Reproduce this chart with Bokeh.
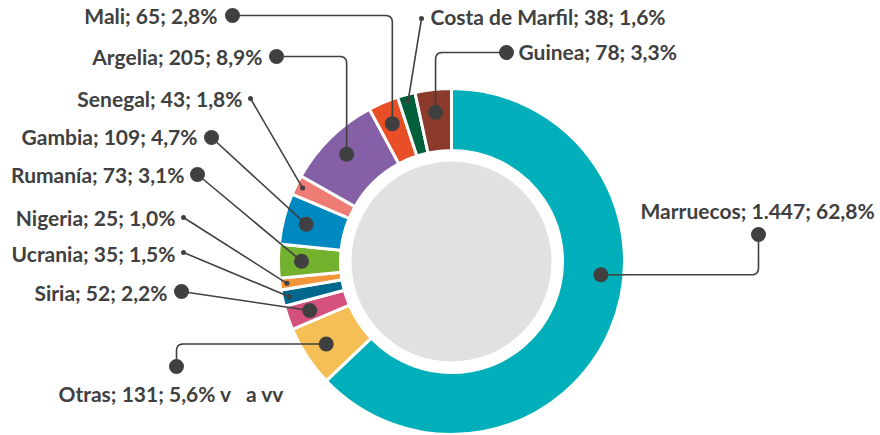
import math
from bokeh.plotting import figure
from bokeh.models import Range1d
from bokeh.embed import file_html
from bokeh.resources import INLINE
from bokeh.core.properties import value

# ---------------- data ----------------
countries = ["Marruecos", "Otras", "Siria", "Ucrania", "Nigeria", "Rumanía",
             "Gambia", "Senegal", "Argelia", "Mali", "Costa de Marfil", "Guinea"]
counts = [1447, 131, 52, 35, 25, 73, 109, 43, 205, 65, 38, 78]
percents = ["62,8%", "5,6%", "2,2%", "1,5%", "1,0%", "3,1%",
            "4,7%", "1,8%", "8,9%", "2,8%", "1,6%", "3,3%"]
label_suffix = ["", " v\u00a0\u00a0\u00a0a vv", "", "", "", "", "", "", "", "", "", ""]
colors = ["#00AFBA", "#F5BF55", "#D4507D", "#00688C", "#F3963B", "#73B22F",
          "#0088C1", "#EE7B74", "#8660A6", "#E84F26", "#00603A", "#8C3A2B"]

# ---------------- layout (screen px of the 880x435 picture) ----------------
W, H = 880, 435
CX, CY = 451, 261
R_OUT, R_IN, R_HOLE = 173, 111, 100
TXT = "#404040"

# label text anchor (x, y, align), label-side dot (x, y), dot kind, leader style
label_layout = {
    "Marruecos":       ((640, 210, "left"),  (758, 234), "big",   "v"),
    "Otras":           ((58, 393, "left"),   (176, 366), "big",   "v"),
    "Siria":           ((167, 292, "right"), (181, 291), "big",   "s"),
    "Ucrania":         ((175, 253, "right"), (183, 252), "small", "s"),
    "Nigeria":         ((175, 217, "right"), (183, 217), "small", "s"),
    "Rumanía":         ((184, 174, "right"), (197, 174), "big",   "s"),
    "Gambia":          ((197, 136, "right"), (211, 137), "big",   "s"),
    "Senegal":         ((242, 98, "right"),  (250, 98),  "small", "s"),
    "Argelia":         ((262, 56, "right"),  (276, 56),  "big",   "h"),
    "Mali":            ((217, 15, "right"),  (232, 15),  "big",   "h"),
    "Costa de Marfil": ((430, 16, "left"),   (421, 18),  "small", "s"),
    "Guinea":          ((518, 51, "left"),   (506, 52),  "big",   "h"),
}
anchor_frac = {"Marruecos": 0.42}


def fy(sy):
    return H - sy


def fmt_count(n):
    return f"{n:,}".replace(",", ".")


p = figure(width=W, height=H, output_backend="svg", toolbar_location=None,
           x_range=Range1d(0, W), y_range=Range1d(0, H),
           x_axis_type=None, y_axis_type=None, min_border=0,
           outline_line_color=None, background_fill_color="white")
p.grid.visible = False

total = sum(counts)
cum = 0.0
starts, ends, spans = [], [], []
for c in counts:
    a0 = cum / total * 360.0
    cum += c
    a1 = cum / total * 360.0
    starts.append(math.radians(90 - a0))
    ends.append(math.radians(90 - a1))
    spans.append((a0, a1))

p.annular_wedge(x=[CX] * len(counts), y=[fy(CY)] * len(counts),
                inner_radius=R_IN, outer_radius=R_OUT,
                start_angle=starts, end_angle=ends, direction="clock",
                fill_color=colors, line_color="white", line_width=3)

p.circle(x=[CX], y=[fy(CY)], radius=R_HOLE, fill_color="#E1E1E1", line_color=None)


def rounded_path(a, c, b, r=7, n=8):
    def unit(u, v):
        d = math.hypot(v[0] - u[0], v[1] - u[1]) or 1
        return ((v[0] - u[0]) / d, (v[1] - u[1]) / d)
    ua = unit(c, a)
    ub = unit(c, b)
    p1 = (c[0] + r * ua[0], c[1] + r * ua[1])
    p2 = (c[0] + r * ub[0], c[1] + r * ub[1])
    pts = [a, p1]
    for i in range(1, n):
        t = i / n
        x = (1 - t) ** 2 * p1[0] + 2 * (1 - t) * t * c[0] + t ** 2 * p2[0]
        y = (1 - t) ** 2 * p1[1] + 2 * (1 - t) * t * c[1] + t ** 2 * p2[1]
        pts.append((x, y))
    pts += [p2, b]
    return pts


xs, ys = [], []
big_x, big_y, small_x, small_y = [], [], [], []
tl = {"left": ([], [], []), "right": ([], [], [])}
for i, name in enumerate(countries):
    (tx, ty, talign), (lx, ly), kind, style = label_layout[name]
    a0, a1 = spans[i]
    frac = anchor_frac.get(name, 0.5)
    ang = math.radians(a0 + frac * (a1 - a0))
    rr = 150 if kind == "big" else 166
    sx = CX + rr * math.sin(ang)
    sy = CY - rr * math.cos(ang)
    if style == "s":
        pts = [(lx, ly), (sx, sy)]
    elif style == "h":
        pts = rounded_path((lx, ly), (sx, ly), (sx, sy))
    else:
        pts = rounded_path((lx, ly), (lx, sy), (sx, sy))
    xs.append([q[0] for q in pts])
    ys.append([fy(q[1]) for q in pts])
    if kind == "big":
        big_x += [lx, sx]
        big_y += [fy(ly), fy(sy)]
    else:
        small_x += [lx, sx]
        small_y += [fy(ly), fy(sy)]
    text = f"{name}; {fmt_count(counts[i])}; {percents[i]}{label_suffix[i]}"
    tl[talign][0].append(tx)
    tl[talign][1].append(fy(ty))
    tl[talign][2].append(text)

p.multi_line(xs=xs, ys=ys, line_color=TXT, line_width=1.6)
p.scatter(x=big_x, y=big_y, size=15, fill_color=TXT, line_color=None)
p.scatter(x=small_x, y=small_y, size=5, fill_color=TXT, line_color=None)

for align, (x, y, t) in tl.items():
    p.text(x=x, y=y, text=t, text_align=align, text_baseline="middle",
           text_font=value("Lato"), text_font_size="21px",
           text_font_style="bold", text_color=TXT)

open("out.html", "w").write(file_html(p, INLINE))
